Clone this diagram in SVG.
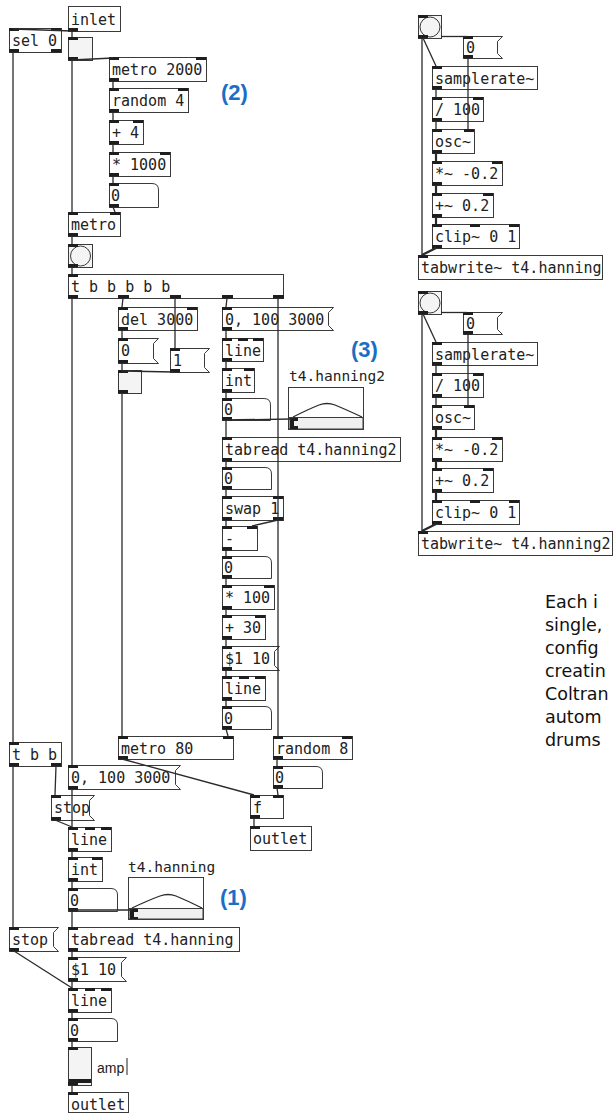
<svg xmlns="http://www.w3.org/2000/svg" width="613" height="1113" viewBox="0 0 613 1113">
<style>
.b{fill:#fff;stroke:#3a3a3a;stroke-width:1}
.g{fill:#f4f4f4;stroke:#3a3a3a;stroke-width:1}
.t{font-family:"DejaVu Sans Mono",monospace;font-size:15px;fill:#222}
.io{fill:#1e1e1e}
.c{stroke:#2a2a2a;stroke-width:1.3;fill:none}
.s{stroke-width:2.2}
.n{font-family:"Liberation Sans",Arial,sans-serif;font-size:22px;font-weight:bold;fill:#1a6fc4}
.p{font-family:"DejaVu Sans","Liberation Sans",sans-serif;font-size:17.5px;fill:#111}
.lb{font-family:"DejaVu Sans Mono",monospace;font-size:14.5px;fill:#222}
</style>
<rect width="613" height="1113" fill="#fff"/>

<g id="inlet"><rect class="b" x="68.5" y="6.5" width="52" height="25"/><text class="t" x="71" y="25">inlet</text><rect class="io" x="68" y="28" width="10" height="3.5"/></g>
<g id="sel0"><rect class="b" x="9.5" y="28.5" width="52" height="24"/><text class="t" x="12" y="46">sel 0</text><rect class="io" x="9" y="28" width="10" height="3"/><rect class="io" x="51" y="28" width="10" height="3"/><rect class="io" x="9" y="49" width="10" height="3.5"/><rect class="io" x="51" y="49" width="10" height="3.5"/></g>
<g id="tgl1"><rect class="g" x="68.5" y="37.5" width="24" height="23"/><rect class="io" x="68" y="37" width="10" height="3"/><rect class="io" x="68" y="57" width="10" height="3.5"/></g>
<g id="metro2000"><rect class="b" x="109.5" y="57.5" width="97" height="24"/><text class="t" x="112" y="75">metro 2000</text><rect class="io" x="109" y="57" width="10" height="3"/><rect class="io" x="196" y="57" width="10" height="3"/><rect class="io" x="109" y="78" width="10" height="3.5"/></g>
<g id="random4"><rect class="b" x="109.5" y="88.5" width="79" height="24"/><text class="t" x="112" y="106">random 4</text><rect class="io" x="109" y="88" width="10" height="3"/><rect class="io" x="178" y="88" width="10" height="3"/><rect class="io" x="109" y="109" width="10" height="3.5"/></g>
<g id="plus4"><rect class="b" x="109.5" y="120.5" width="34" height="24"/><text class="t" x="112" y="138">+ 4</text><rect class="io" x="109" y="120" width="10" height="3"/><rect class="io" x="133" y="120" width="10" height="3"/><rect class="io" x="109" y="141" width="10" height="3.5"/></g>
<g id="mul1000"><rect class="b" x="109.5" y="152.5" width="61" height="24"/><text class="t" x="112" y="170">* 1000</text><rect class="io" x="109" y="152" width="10" height="3"/><rect class="io" x="160" y="152" width="10" height="3"/><rect class="io" x="109" y="173" width="10" height="3.5"/></g>
<g id="num1"><path class="b" d="M109.5 183.5H152Q158.5 183.5 158.5 190V207.5H109.5Z"/><text class="t" x="111" y="201">0</text><rect class="io" x="109" y="183" width="10" height="3"/><rect class="io" x="109" y="204" width="10" height="3.5"/></g>
<g id="metro"><rect class="b" x="68.5" y="212.5" width="52" height="24"/><text class="t" x="71" y="230">metro</text><rect class="io" x="68" y="212" width="10" height="3"/><rect class="io" x="110" y="212" width="10" height="3"/><rect class="io" x="68" y="233" width="10" height="3.5"/></g>
<g id="bng1"><rect class="g" x="68.5" y="244.5" width="24" height="23"/><circle cx="80.5" cy="256" r="10" fill="#f4f4f4" stroke="#3a3a3a"/><rect class="io" x="68" y="244" width="10" height="3"/><rect class="io" x="68" y="264" width="10" height="3.5"/></g>
<g id="trigger"><rect class="b" x="68.5" y="274.5" width="215" height="24"/><text class="t" x="71" y="292" xml:space="preserve">t b b b b b</text><rect class="io" x="68" y="274" width="10" height="3"/><rect class="io" x="68" y="295" width="10" height="3.5"/><rect class="io" x="118" y="295" width="11" height="3.5"/><rect class="io" x="170" y="295" width="11" height="3.5"/><rect class="io" x="222" y="295" width="11" height="3.5"/><rect class="io" x="273" y="295" width="11" height="3.5"/></g>
<g id="del3000"><rect class="b" x="118.5" y="307.5" width="79" height="23"/><text class="t" x="121" y="325">del 3000</text><rect class="io" x="118" y="307" width="10" height="3"/><rect class="io" x="187" y="307" width="10" height="3"/><rect class="io" x="118" y="327" width="10" height="3.5"/></g>
<g id="msg0a"><path class="b" d="M118.5 338.5H158.5L153.5 343.5V358.5L158.5 363.5H118.5Z"/><text class="t" x="121" y="356">0</text><rect class="io" x="118" y="338" width="10" height="3"/><rect class="io" x="118" y="360" width="10" height="3.5"/></g>
<g id="msg1"><path class="b" d="M170.5 348.5H209.5L204.5 353.5V367.5L209.5 372.5H170.5Z"/><text class="t" x="173" y="366">1</text><rect class="io" x="170" y="348" width="10" height="3"/><rect class="io" x="170" y="369" width="10" height="3.5"/></g>
<g id="tgl2"><rect class="g" x="118.5" y="370.5" width="23" height="23"/><rect class="io" x="118" y="370" width="10" height="3"/><rect class="io" x="118" y="390" width="10" height="3.5"/></g>
<g id="msgRamp1"><path class="b" d="M222.5 307.5H333.5L328.5 312.5V325.5L333.5 330.5H222.5Z"/><text class="t" x="225" y="325">0, 100 3000</text><rect class="io" x="222" y="307" width="10" height="3"/><rect class="io" x="222" y="327" width="10" height="3.5"/></g>
<g id="line1"><rect class="b" x="222.5" y="338.5" width="41" height="23"/><text class="t" x="225" y="356">line</text><rect class="io" x="222" y="338" width="10" height="3"/><rect class="io" x="238" y="338" width="10" height="3"/><rect class="io" x="253" y="338" width="10" height="3"/><rect class="io" x="222" y="358" width="10" height="3.5"/></g>
<g id="int1"><rect class="b" x="222.5" y="368.5" width="32" height="24"/><text class="t" x="225" y="386">int</text><rect class="io" x="222" y="368" width="10" height="3"/><rect class="io" x="244" y="368" width="10" height="3"/><rect class="io" x="222" y="389" width="10" height="3.5"/></g>
<g id="num2"><path class="b" d="M222.5 398.5H264Q270.5 398.5 270.5 405V420.5H222.5Z"/><text class="t" x="224" y="415">0</text><rect class="io" x="222" y="398" width="10" height="3"/><rect class="io" x="222" y="417" width="10" height="3.5"/></g>
<g id="array2"><text class="lb" x="289" y="381">t4.hanning2</text><rect class="b" x="288.5" y="387.5" width="75" height="42"/><rect x="289" y="417.5" width="74" height="11.5" fill="#f0f0f0" stroke="#3a3a3a"/><path class="c" d="M293 417Q309 409 319 405Q327 402 335 405Q347 410 362 417"/><rect x="290" y="418" width="8" height="11" fill="#1e1e1e"/><rect x="294" y="421" width="4" height="5" fill="#f0f0f0"/></g>
<g id="tabread2"><rect class="b" x="222.5" y="437.5" width="178" height="24"/><text class="t" x="225" y="455">tabread t4.hanning2</text><rect class="io" x="222" y="437" width="10" height="3"/><rect class="io" x="222" y="458" width="10" height="3.5"/></g>
<g id="num3"><path class="b" d="M222.5 467.5H265Q271.5 467.5 271.5 474V489.5H222.5Z"/><text class="t" x="224" y="484">0</text><rect class="io" x="222" y="467" width="10" height="3"/><rect class="io" x="222" y="486" width="10" height="3.5"/></g>
<g id="swap"><rect class="b" x="222.5" y="496.5" width="61" height="24"/><text class="t" x="225" y="514">swap 1</text><rect class="io" x="222" y="496" width="10" height="3"/><rect class="io" x="273" y="496" width="10" height="3"/><rect class="io" x="222" y="517" width="10" height="3.5"/><rect class="io" x="273" y="517" width="10" height="3.5"/></g>
<g id="minus"><rect class="b" x="222.5" y="526.5" width="35" height="24"/><text class="t" x="225" y="544">-</text><rect class="io" x="222" y="526" width="10" height="3"/><rect class="io" x="247" y="526" width="10" height="3"/><rect class="io" x="222" y="547" width="10" height="3.5"/></g>
<g id="num4"><path class="b" d="M222.5 556.5H265Q271.5 556.5 271.5 563V578.5H222.5Z"/><text class="t" x="224" y="573">0</text><rect class="io" x="222" y="556" width="10" height="3"/><rect class="io" x="222" y="575" width="10" height="3.5"/></g>
<g id="mul100"><rect class="b" x="222.5" y="585.5" width="52" height="24"/><text class="t" x="225" y="603">* 100</text><rect class="io" x="222" y="585" width="10" height="3"/><rect class="io" x="264" y="585" width="10" height="3"/><rect class="io" x="222" y="606" width="10" height="3.5"/></g>
<g id="plus30"><rect class="b" x="222.5" y="615.5" width="43" height="24"/><text class="t" x="225" y="633">+ 30</text><rect class="io" x="222" y="615" width="10" height="3"/><rect class="io" x="255" y="615" width="10" height="3"/><rect class="io" x="222" y="636" width="10" height="3.5"/></g>
<g id="msgDollar1"><path class="b" d="M222.5 646.5H279.5L274.5 651.5V665.5L279.5 670.5H222.5Z"/><text class="t" x="225" y="664">$1 10</text><rect class="io" x="222" y="646" width="10" height="3"/><rect class="io" x="222" y="667" width="10" height="3.5"/></g>
<g id="line2"><rect class="b" x="222.5" y="676.5" width="43" height="24"/><text class="t" x="225" y="694">line</text><rect class="io" x="222" y="676" width="10" height="3"/><rect class="io" x="239" y="676" width="10" height="3"/><rect class="io" x="255" y="676" width="10" height="3"/><rect class="io" x="222" y="697" width="10" height="3.5"/></g>
<g id="num5"><path class="b" d="M222.5 706.5H265Q271.5 706.5 271.5 713V729.5H222.5Z"/><text class="t" x="224" y="724">0</text><rect class="io" x="222" y="706" width="10" height="3"/><rect class="io" x="222" y="726" width="10" height="3.5"/></g>
<g id="metro80"><rect class="b" x="118.5" y="736.5" width="115" height="23"/><text class="t" x="121" y="754">metro 80</text><rect class="io" x="118" y="736" width="10" height="3"/><rect class="io" x="223" y="736" width="10" height="3"/><rect class="io" x="118" y="756" width="10" height="3.5"/></g>
<g id="random8"><rect class="b" x="273.5" y="736.5" width="79" height="23"/><text class="t" x="276" y="754">random 8</text><rect class="io" x="273" y="736" width="10" height="3"/><rect class="io" x="342" y="736" width="10" height="3"/><rect class="io" x="273" y="756" width="10" height="3.5"/></g>
<g id="num6"><path class="b" d="M273.5 766.5H316Q322.5 766.5 322.5 773V788.5H273.5Z"/><text class="t" x="275" y="783">0</text><rect class="io" x="273" y="766" width="10" height="3"/><rect class="io" x="273" y="785" width="10" height="3.5"/></g>
<g id="float"><rect class="b" x="250.5" y="795.5" width="33" height="23"/><text class="t" x="253" y="813">f</text><rect class="io" x="250" y="795" width="10" height="3"/><rect class="io" x="273" y="795" width="10" height="3"/><rect class="io" x="250" y="815" width="10" height="3.5"/></g>
<g id="outlet1"><rect class="b" x="250.5" y="826.5" width="61" height="24"/><text class="t" x="253" y="844">outlet</text><rect class="io" x="250" y="826" width="10" height="3"/></g>
<g id="tbb"><rect class="b" x="9.5" y="742.5" width="52" height="24"/><text class="t" x="12" y="760">t b b</text><rect class="io" x="9" y="742" width="10" height="3"/><rect class="io" x="9" y="763" width="10" height="3.5"/><rect class="io" x="51" y="763" width="10" height="3.5"/></g>
<g id="msgRamp2"><path class="b" d="M68.5 765.5H180.5L175.5 770.5V784.5L180.5 789.5H68.5Z"/><text class="t" x="71" y="783">0, 100 3000</text><rect class="io" x="68" y="765" width="10" height="3"/><rect class="io" x="68" y="786" width="10" height="3.5"/></g>
<g id="stop1"><path class="b" d="M51.5 795.5H94.5L89.5 800.5V815.5L94.5 820.5H51.5Z"/><text class="t" x="54" y="813">stop</text><rect class="io" x="51" y="795" width="10" height="3"/><rect class="io" x="51" y="817" width="10" height="3.5"/></g>
<g id="line3"><rect class="b" x="68.5" y="827.5" width="43" height="24"/><text class="t" x="71" y="845">line</text><rect class="io" x="68" y="827" width="10" height="3"/><rect class="io" x="85" y="827" width="10" height="3"/><rect class="io" x="101" y="827" width="10" height="3"/><rect class="io" x="68" y="848" width="10" height="3.5"/></g>
<g id="int2"><rect class="b" x="68.5" y="857.5" width="34" height="24"/><text class="t" x="71" y="875">int</text><rect class="io" x="68" y="857" width="10" height="3"/><rect class="io" x="92" y="857" width="10" height="3"/><rect class="io" x="68" y="878" width="10" height="3.5"/></g>
<g id="num7"><path class="b" d="M68.5 888.5H111Q117.5 888.5 117.5 895V911.5H68.5Z"/><text class="t" x="70" y="906">0</text><rect class="io" x="68" y="888" width="10" height="3"/><rect class="io" x="68" y="908" width="10" height="3.5"/></g>
<g id="array1"><text class="lb" x="128" y="872">t4.hanning</text><rect class="b" x="128.5" y="877.5" width="75" height="42"/><rect x="129" y="908.5" width="74" height="10.5" fill="#f0f0f0" stroke="#3a3a3a"/><path class="c" d="M132 908Q149 900 160 896Q168 893 176 896Q188 901 202 908"/><rect x="130" y="909" width="8" height="10" fill="#1e1e1e"/><rect x="134" y="912" width="4" height="5" fill="#f0f0f0"/></g>
<g id="stop2"><path class="b" d="M9.5 927.5H58.5L53.5 932.5V946.5L58.5 951.5H9.5Z"/><text class="t" x="12" y="945">stop</text><rect class="io" x="9" y="927" width="10" height="3"/><rect class="io" x="9" y="948" width="10" height="3.5"/></g>
<g id="tabread1"><rect class="b" x="68.5" y="927.5" width="171" height="24"/><text class="t" x="71" y="945">tabread t4.hanning</text><rect class="io" x="68" y="927" width="10" height="3"/><rect class="io" x="68" y="948" width="10" height="3.5"/></g>
<g id="msgDollar2"><path class="b" d="M68.5 957.5H126.5L121.5 962.5V976.5L126.5 981.5H68.5Z"/><text class="t" x="71" y="975">$1 10</text><rect class="io" x="68" y="957" width="10" height="3"/><rect class="io" x="68" y="978" width="10" height="3.5"/></g>
<g id="line4"><rect class="b" x="68.5" y="988.5" width="43" height="24"/><text class="t" x="71" y="1006">line</text><rect class="io" x="68" y="988" width="10" height="3"/><rect class="io" x="85" y="988" width="10" height="3"/><rect class="io" x="101" y="988" width="10" height="3"/><rect class="io" x="68" y="1009" width="10" height="3.5"/></g>
<g id="num8"><path class="b" d="M68.5 1018.5H111Q117.5 1018.5 117.5 1025V1041.5H68.5Z"/><text class="t" x="70" y="1036">0</text><rect class="io" x="68" y="1018" width="10" height="3"/><rect class="io" x="68" y="1038" width="10" height="3.5"/></g>
<g id="vslider"><rect class="g" x="68.5" y="1047.5" width="23" height="38"/><rect class="io" x="68" y="1047" width="10" height="3"/><rect x="69" y="1079" width="22" height="4" fill="#1e1e1e"/><rect class="io" x="68" y="1082" width="10" height="3.5"/><text x="97" y="1073" font-family="Liberation Sans,Arial,sans-serif" font-size="14" fill="#222">amp</text><line x1="127" y1="1058" x2="127" y2="1075" stroke="#222" stroke-width="1"/></g>
<g id="outlet2"><rect class="b" x="68.5" y="1092.5" width="60" height="20"/><text class="t" x="71" y="1110">outlet</text><rect class="io" x="68" y="1092" width="10" height="3"/></g>

<g id="bngR1"><rect class="g" x="418.5" y="15.5" width="23" height="23"/><circle cx="430" cy="27" r="10" fill="#f4f4f4" stroke="#3a3a3a"/><rect class="io" x="418" y="15" width="10" height="3"/><rect class="io" x="418" y="35" width="10" height="3.5"/></g>
<g id="msgR1"><path class="b" d="M463.5 36.5H502.5L497.5 41.5V53.5L502.5 58.5H463.5Z"/><text class="t" x="466" y="53">0</text><rect class="io" x="463" y="36" width="10" height="3"/><rect class="io" x="463" y="55" width="10" height="3.5"/></g>
<g id="sr1"><rect class="b" x="432.5" y="66.5" width="105" height="23"/><text class="t" x="435" y="84">samplerate~</text><rect class="io" x="432" y="66" width="10" height="3"/><rect class="io" x="432" y="86" width="10" height="3.5"/></g>
<g id="div1"><rect class="b" x="432.5" y="97.5" width="51" height="24"/><text class="t" x="435" y="115">/ 100</text><rect class="io" x="432" y="97" width="10" height="3"/><rect class="io" x="473" y="97" width="10" height="3"/><rect class="io" x="432" y="118" width="10" height="3.5"/></g>
<g id="osc1"><rect class="b" x="432.5" y="129.5" width="42" height="24"/><text class="t" x="435" y="147">osc~</text><rect class="io" x="432" y="129" width="10" height="3"/><rect class="io" x="464" y="129" width="10" height="3"/><rect class="io" x="432" y="150" width="10" height="3.5"/></g>
<g id="mulS1"><rect class="b" x="432.5" y="161.5" width="70" height="24"/><text class="t" x="435" y="179">*~ -0.2</text><rect class="io" x="432" y="161" width="10" height="3"/><rect class="io" x="492" y="161" width="10" height="3"/><rect class="io" x="432" y="182" width="10" height="3.5"/></g>
<g id="addS1"><rect class="b" x="432.5" y="193.5" width="61" height="24"/><text class="t" x="435" y="211">+~ 0.2</text><rect class="io" x="432" y="193" width="10" height="3"/><rect class="io" x="483" y="193" width="10" height="3"/><rect class="io" x="432" y="214" width="10" height="3.5"/></g>
<g id="clip1"><rect class="b" x="432.5" y="224.5" width="87" height="24"/><text class="t" x="435" y="242">clip~ 0 1</text><rect class="io" x="432" y="224" width="10" height="3"/><rect class="io" x="470" y="224" width="10" height="3"/><rect class="io" x="509" y="224" width="10" height="3"/><rect class="io" x="432" y="245" width="10" height="3.5"/></g>
<g id="tw1"><rect class="b" x="418.5" y="255.5" width="184" height="24"/><text class="t" x="421" y="273">tabwrite~ t4.hanning</text><rect class="io" x="418" y="255" width="10" height="3"/></g>

<g id="bngR2"><rect class="g" x="418.5" y="291.5" width="23" height="23"/><circle cx="430" cy="303" r="10" fill="#f4f4f4" stroke="#3a3a3a"/><rect class="io" x="418" y="291" width="10" height="3"/><rect class="io" x="418" y="311" width="10" height="3.5"/></g>
<g id="msgR2"><path class="b" d="M463.5 312.5H502.5L497.5 317.5V329.5L502.5 334.5H463.5Z"/><text class="t" x="466" y="329">0</text><rect class="io" x="463" y="312" width="10" height="3"/><rect class="io" x="463" y="331" width="10" height="3.5"/></g>
<g id="sr2"><rect class="b" x="432.5" y="342.5" width="105" height="23"/><text class="t" x="435" y="360">samplerate~</text><rect class="io" x="432" y="342" width="10" height="3"/><rect class="io" x="432" y="362" width="10" height="3.5"/></g>
<g id="div2"><rect class="b" x="432.5" y="373.5" width="51" height="24"/><text class="t" x="435" y="391">/ 100</text><rect class="io" x="432" y="373" width="10" height="3"/><rect class="io" x="473" y="373" width="10" height="3"/><rect class="io" x="432" y="394" width="10" height="3.5"/></g>
<g id="osc2"><rect class="b" x="432.5" y="405.5" width="42" height="24"/><text class="t" x="435" y="423">osc~</text><rect class="io" x="432" y="405" width="10" height="3"/><rect class="io" x="464" y="405" width="10" height="3"/><rect class="io" x="432" y="426" width="10" height="3.5"/></g>
<g id="mulS2"><rect class="b" x="432.5" y="437.5" width="70" height="24"/><text class="t" x="435" y="455">*~ -0.2</text><rect class="io" x="432" y="437" width="10" height="3"/><rect class="io" x="492" y="437" width="10" height="3"/><rect class="io" x="432" y="458" width="10" height="3.5"/></g>
<g id="addS2"><rect class="b" x="432.5" y="468.5" width="61" height="24"/><text class="t" x="435" y="486">+~ 0.2</text><rect class="io" x="432" y="468" width="10" height="3"/><rect class="io" x="483" y="468" width="10" height="3"/><rect class="io" x="432" y="489" width="10" height="3.5"/></g>
<g id="clip2"><rect class="b" x="432.5" y="500.5" width="87" height="24"/><text class="t" x="435" y="518">clip~ 0 1</text><rect class="io" x="432" y="500" width="10" height="3"/><rect class="io" x="470" y="500" width="10" height="3"/><rect class="io" x="509" y="500" width="10" height="3"/><rect class="io" x="432" y="521" width="10" height="3.5"/></g>
<g id="tw2"><rect class="b" x="418.5" y="531.5" width="194" height="24"/><text class="t" x="421" y="549">tabwrite~ t4.hanning2</text><rect class="io" x="418" y="531" width="10" height="3"/></g>

<g id="connectors">
<line class="c" x1="72" y1="31" x2="13" y2="29"/>
<line class="c" x1="72" y1="31" x2="72" y2="37"/>
<line class="c" x1="72" y1="60" x2="113" y2="58"/>
<line class="c" x1="72" y1="60" x2="72" y2="212"/>
<line class="c" x1="13" y1="52" x2="13" y2="742"/>
<line class="c" x1="113" y1="81" x2="113" y2="88"/>
<line class="c" x1="113" y1="112" x2="113" y2="120"/>
<line class="c" x1="113" y1="144" x2="113" y2="152"/>
<line class="c" x1="113" y1="176" x2="113" y2="183"/>
<line class="c" x1="113" y1="207" x2="115" y2="212"/>
<line class="c" x1="72" y1="236" x2="72" y2="244"/>
<line class="c" x1="72" y1="267" x2="72" y2="274"/>
<line class="c" x1="72" y1="298" x2="72" y2="765"/>
<line class="c" x1="123" y1="298" x2="122" y2="307"/>
<line class="c" x1="175" y1="298" x2="175" y2="348"/>
<line class="c" x1="227" y1="298" x2="226" y2="307"/>
<line class="c" x1="278" y1="298" x2="278" y2="736"/>
<line class="c" x1="122" y1="330" x2="122" y2="338"/>
<line class="c" x1="122" y1="363" x2="122" y2="370"/>
<line class="c" x1="174" y1="372" x2="122" y2="371"/>
<line class="c" x1="122" y1="393" x2="122" y2="736"/>
<line class="c" x1="226" y1="330" x2="226" y2="338"/>
<line class="c" x1="226" y1="361" x2="226" y2="368"/>
<line class="c" x1="226" y1="392" x2="226" y2="398"/>
<line class="c" x1="222" y1="420" x2="292" y2="419"/>
<line class="c" x1="226" y1="420" x2="226" y2="437"/>
<line class="c" x1="226" y1="461" x2="226" y2="467"/>
<line class="c" x1="226" y1="489" x2="226" y2="496"/>
<line class="c" x1="226" y1="520" x2="226" y2="526"/>
<line class="c" x1="278" y1="520" x2="252" y2="526"/>
<line class="c" x1="226" y1="550" x2="226" y2="556"/>
<line class="c" x1="226" y1="578" x2="226" y2="585"/>
<line class="c" x1="226" y1="609" x2="226" y2="615"/>
<line class="c" x1="226" y1="639" x2="226" y2="646"/>
<line class="c" x1="226" y1="670" x2="226" y2="676"/>
<line class="c" x1="226" y1="700" x2="226" y2="706"/>
<line class="c" x1="226" y1="729" x2="228" y2="736"/>
<line class="c" x1="122" y1="759" x2="254" y2="795"/>
<line class="c" x1="277" y1="759" x2="277" y2="766"/>
<line class="c" x1="277" y1="788" x2="278" y2="795"/>
<line class="c" x1="254" y1="818" x2="254" y2="826"/>
<line class="c" x1="13" y1="766" x2="13" y2="927"/>
<line class="c" x1="56" y1="766" x2="55" y2="795"/>
<line class="c" x1="72" y1="789" x2="72" y2="827"/>
<line class="c" x1="55" y1="820" x2="72" y2="827"/>
<line class="c" x1="72" y1="851" x2="72" y2="857"/>
<line class="c" x1="72" y1="881" x2="72" y2="888"/>
<line class="c" x1="68" y1="910" x2="132" y2="910"/>
<line class="c" x1="72" y1="911" x2="72" y2="927"/>
<line class="c" x1="72" y1="951" x2="72" y2="957"/>
<line class="c" x1="72" y1="981" x2="72" y2="988"/>
<line class="c" x1="14" y1="951" x2="72" y2="988"/>
<line class="c" x1="72" y1="1012" x2="72" y2="1018"/>
<line class="c" x1="72" y1="1041" x2="72" y2="1047"/>
<line class="c" x1="72" y1="1085" x2="72" y2="1092"/>

<line class="c" x1="422" y1="38" x2="422" y2="255"/>
<line class="c" x1="423" y1="38" x2="436" y2="66"/>
<line class="c" x1="441" y1="36.5" x2="467" y2="36.5"/>
<line class="c" x1="468" y1="58" x2="468" y2="129"/>
<line class="c" x1="436" y1="89" x2="436" y2="97"/>
<line class="c" x1="436" y1="121" x2="436" y2="129"/>
<line class="c s" x1="436" y1="153" x2="436" y2="161"/>
<line class="c s" x1="436" y1="185" x2="436" y2="193"/>
<line class="c s" x1="436" y1="217" x2="436" y2="224"/>
<line class="c s" x1="436" y1="248" x2="422" y2="255"/>

<line class="c" x1="422" y1="314" x2="422" y2="531"/>
<line class="c" x1="423" y1="314" x2="436" y2="342"/>
<line class="c" x1="441" y1="312.5" x2="467" y2="312.5"/>
<line class="c" x1="468" y1="334" x2="468" y2="405"/>
<line class="c" x1="436" y1="365" x2="436" y2="373"/>
<line class="c" x1="436" y1="397" x2="436" y2="405"/>
<line class="c s" x1="436" y1="429" x2="436" y2="437"/>
<line class="c s" x1="436" y1="461" x2="436" y2="468"/>
<line class="c s" x1="436" y1="492" x2="436" y2="500"/>
<line class="c s" x1="436" y1="524" x2="422" y2="531"/>
</g>

<g id="labels">
<text class="n" x="221" y="100">(2)</text>
<text class="n" x="351" y="357">(3)</text>
<text class="n" x="220" y="905">(1)</text>
<text class="p" x="545" y="608">Each i</text>
<text class="p" x="545" y="631">single,</text>
<text class="p" x="545" y="654">config</text>
<text class="p" x="545" y="677">creatin</text>
<text class="p" x="545" y="700">Coltran</text>
<text class="p" x="545" y="723">autom</text>
<text class="p" x="545" y="746">drums</text>
</g>
</svg>
